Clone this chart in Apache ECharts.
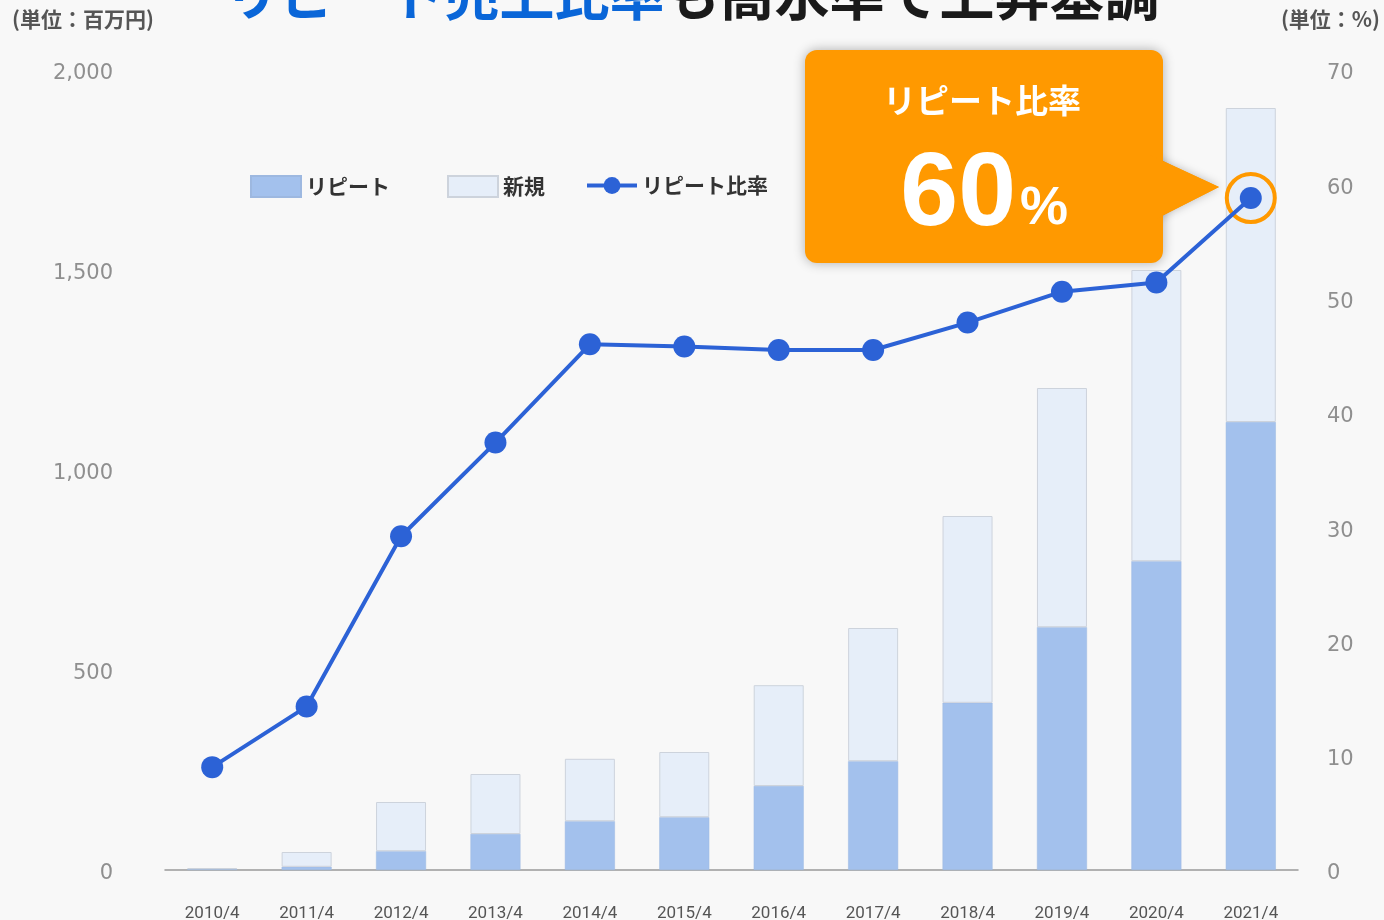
<!DOCTYPE html>
<html>
<head>
<meta charset="utf-8">
<script src="https://cdn.jsdelivr.net/npm/echarts@6/dist/echarts.min.js"></script>
<style>
  html, body { margin: 0; padding: 0; background: #f8f8f8; }
  #chart { width: 1384px; height: 920px; }
</style>
</head>
<body>
<div id="chart"></div>
<script>
// 決算期
var categories = ['2010/4', '2011/4', '2012/4', '2013/4', '2014/4', '2015/4',
  '2016/4', '2017/4', '2018/4', '2019/4', '2020/4', '2021/4'];
// リピート売上（百万円）
var repeatSales = [2, 8, 47, 90, 122, 132, 210, 272, 418, 607, 772, 1120];
// 新規売上（百万円）
var newSales = [3, 37, 123, 150, 156, 163, 252, 333, 467, 598, 728, 785];
// リピート比率（%）
var repeatRatio = [9.0, 14.3, 29.2, 37.4, 46.0, 45.8, 45.5, 45.5, 47.9, 50.6, 51.4, 58.8];
var leftTicks = [0, 500, 1000, 1500, 2000];
var rightTicks = [0, 10, 20, 30, 40, 50, 60, 70];

var jp = '"Noto Sans CJK JP", sans-serif';
var chart = echarts.init(document.getElementById('chart'));

var legendText = { fontFamily: jp, fontSize: 21, fontWeight: 'bold', color: '#333' };

function legendAt(left, name, icon) {
  return {
    left: left, top: 175, padding: 0, itemWidth: 50, itemHeight: 21,
    icon: icon, data: [name], textStyle: legendText,
    lineStyle: { width: 4 }
  };
}

var option = {
  backgroundColor: '#f8f8f8',
  animation: false,
  title: {
    left: 'center',
    top: -38,
    text: '{a|リピート売上比率}{b|も高水準で上昇基調}',
    textStyle: {
      rich: {
        a: { fontFamily: jp, fontSize: 55, fontWeight: 'bold', color: '#0a66d8' },
        b: { fontFamily: jp, fontSize: 55, fontWeight: 'bold', color: '#1a1a1a' }
      }
    }
  },
  legend: [
    legendAt(250, 'リピート', 'rect'),
    legendAt(447, '新規', 'rect'),
    legendAt(585, 'リピート比率')
  ],
  grid: { left: 165, right: 86, top: 70, bottom: 50, containLabel: false, outerBoundsMode: 'none' },
  xAxis: {
    type: 'category',
    data: categories,
    axisLine: { lineStyle: { color: '#999', width: 1.5 } },
    axisTick: { show: false },
    axisLabel: { margin: 35, fontFamily: 'Roboto, sans-serif', fontSize: 17, color: '#555' }
  },
  yAxis: [
    {
      type: 'value', min: 0, max: 2000, interval: 500,
      splitLine: { show: false },
      axisLine: { show: false },
      axisLabel: {
        margin: 52, fontFamily: '"DejaVu Sans", sans-serif', fontSize: 21, color: '#8f8f8f',
        verticalAlign: 'top', lineHeight: 8,
        formatter: function (v) {
          return leftTicks.indexOf(v) >= 0 ? v.toLocaleString('en-US') : '';
        }
      }
    },
    {
      type: 'value', min: 0, max: 70, interval: 10,
      splitLine: { show: false },
      axisLine: { show: false },
      axisLabel: {
        margin: 29, fontFamily: '"DejaVu Sans", sans-serif', fontSize: 21, color: '#8f8f8f',
        verticalAlign: 'top', lineHeight: 8,
        formatter: function (v) {
          return rightTicks.indexOf(v) >= 0 ? String(v) : '';
        }
      }
    }
  ],
  series: [
    {
      name: 'リピート', type: 'bar', stack: 'sales', barWidth: 50,
      itemStyle: { color: '#a3c1ed', borderColor: '#9db8e0', borderWidth: 0.5 },
      data: repeatSales
    },
    {
      name: '新規', type: 'bar', stack: 'sales', barWidth: 50,
      itemStyle: { color: '#e6eef9', borderColor: '#cdd3dc', borderWidth: 1 },
      data: newSales
    },
    {
      name: 'リピート比率', type: 'line', yAxisIndex: 1, z: 5,
      symbol: 'circle', symbolSize: 22,
      lineStyle: { color: '#2c62d6', width: 4 },
      itemStyle: { color: '#2c62d6' },
      data: repeatRatio,
      markPoint: {
        symbol: 'circle', symbolSize: 48,
        itemStyle: { color: 'rgba(0,0,0,0)', borderColor: '#ff9900', borderWidth: 4 },
        label: { show: false },
        data: [{ coord: [categories.length - 1, repeatRatio[repeatRatio.length - 1]] }]
      }
    }
  ],
  graphic: [
    {
      type: 'text', left: 12, top: 9,
      style: { text: '(単位：百万円)', fontFamily: jp, fontSize: 21, fontWeight: 'bold', fill: '#555' }
    },
    {
      type: 'text', right: 4, top: 9,
      style: { text: '(単位：%)', fontFamily: jp, fontSize: 21, fontWeight: 'bold', fill: '#555' }
    },
    {
      type: 'group', z: 50,
      children: [
        {
          type: 'polygon',
          shape: { points: [[1150, 155], [1219, 187], [1150, 222]] },
          style: { fill: '#ff9900', shadowBlur: 10, shadowColor: 'rgba(0,0,0,0.25)' }
        },
        {
          type: 'rect',
          shape: { x: 805, y: 50, width: 358, height: 213, r: 12 },
          style: { fill: '#ff9900', shadowBlur: 12, shadowColor: 'rgba(0,0,0,0.3)' }
        },
        {
          type: 'polygon',
          shape: { points: [[1150, 155], [1219, 187], [1150, 222]] },
          style: { fill: '#ff9900' }
        },
        {
          type: 'text', x: 982, y: 100,
          style: {
            text: 'リピート比率', fontFamily: jp, fontSize: 33, fontWeight: 'bold', fill: '#fff',
            align: 'center', verticalAlign: 'middle'
          }
        },
        {
          type: 'text', x: 1016, y: 248,
          style: {
            text: '60', fontFamily: '"Liberation Sans", Arial, sans-serif', fontSize: 104, fontWeight: 'bold',
            fill: '#fff', align: 'right', verticalAlign: 'bottom'
          }
        },
        {
          type: 'text', x: 1020, y: 236,
          style: {
            text: '%', fontFamily: '"Liberation Sans", Arial, sans-serif', fontSize: 54, fontWeight: 'bold',
            fill: '#fff', align: 'left', verticalAlign: 'bottom'
          }
        }
      ]
    }
  ]
};
chart.setOption(option);
</script>
</body>
</html>
